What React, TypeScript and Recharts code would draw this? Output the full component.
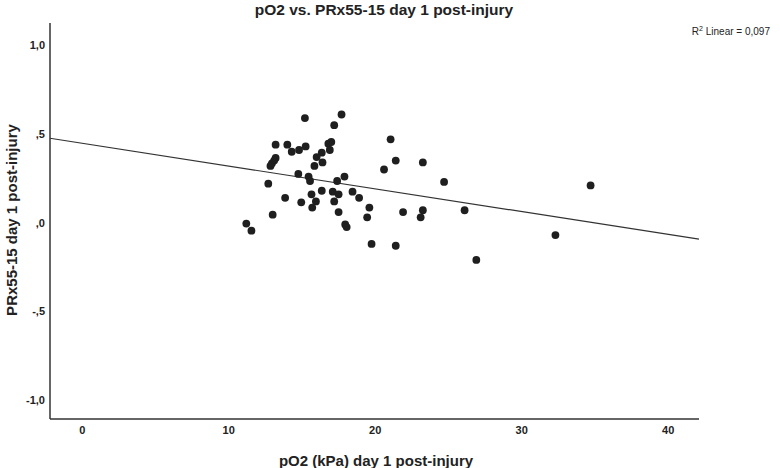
import React from "react";
import { ScatterChart, Scatter, XAxis, YAxis, ReferenceLine } from "recharts";

const pO2Values = [
  15.2, 17.7, 17.2, 13.2, 14.0, 14.3, 14.8, 15.25, 16.8, 17.0,
  16.9, 16.35, 16.0, 16.4, 15.85, 13.2, 13.1, 12.95, 12.85, 21.05,
  21.4, 20.6, 14.75, 15.45, 15.55, 17.9, 17.4, 12.7, 16.35, 15.65,
  17.1, 17.5, 18.45, 18.9, 13.85, 14.95, 15.95, 17.2, 15.7, 19.6,
  21.9, 17.5, 19.45, 13.0, 11.2, 11.55, 17.95, 18.05, 19.75, 21.4,
  23.25, 24.7, 23.25, 23.1, 26.1, 32.3, 26.9, 34.7,
];

const prxValues = [
  0.59, 0.61, 0.55, 0.44, 0.44, 0.40, 0.41, 0.43, 0.445, 0.455,
  0.41, 0.395, 0.37, 0.34, 0.32, 0.365, 0.35, 0.335, 0.32, 0.47,
  0.35, 0.30, 0.275, 0.26, 0.235, 0.26, 0.235, 0.22, 0.18, 0.16,
  0.175, 0.16, 0.175, 0.14, 0.14, 0.115, 0.12, 0.12, 0.085, 0.085,
  0.06, 0.06, 0.03, 0.045, -0.005, -0.045, -0.01, -0.025, -0.12, -0.13,
  0.34, 0.23, 0.07, 0.03, 0.07, -0.07, -0.21, 0.21,
];

const xTicks = [0, 10, 20, 30, 40];
const yTicks = [-1, -0.5, 0, 0.5, 1];

const fitX = [-2.2, 42.1];
const fitY = [0.476, -0.093];

const title = "pO2 vs. PRx55-15 day 1 post-injury";
const xLabel = "pO2 (kPa) day 1 post-injury";
const yLabel = "PRx55-15 day 1 post-injury";
const r2Text = "0,097";

const points = pO2Values.map((x, i) => ({ x, y: prxValues[i] }));

const fmtY = (v: number) => {
  if (v === 0) return ",0";
  const s = Math.abs(v).toFixed(1).replace(".", ",");
  const t = s.startsWith("0") ? s.slice(1) : s;
  return (v < 0 ? "-" : "") + t;
};

const FONT = "'Liberation Sans', Arial, sans-serif";

const Dot = (props: any) => (
  <circle cx={props.cx} cy={props.cy} r={3.9} fill="#1f1f1f" />
);

export default function App() {
  return (
    <div
      style={{
        position: "absolute",
        left: 0,
        top: 0,
        width: 780,
        height: 468,
        background: "#fff",
        fontFamily: FONT,
      }}
    >
      <ScatterChart
        width={780}
        height={468}
        margin={{ top: 23, right: 81, left: 0, bottom: 0 }}
      >
        <XAxis
          type="number"
          dataKey="x"
          domain={[-2.2, 42.1]}
          ticks={xTicks}
          allowDataOverflow
          height={49}
          tickLine={false}
          tickSize={5}
          tickMargin={2}
          axisLine={{ stroke: "#333", strokeWidth: 1.5 }}
          tick={{ fontSize: 11, fontWeight: "bold", fill: "#222", fontFamily: FONT }}
        />
        <YAxis
          type="number"
          dataKey="y"
          domain={[-1.107, 1.126]}
          ticks={yTicks}
          allowDataOverflow
          width={50}
          tickLine={false}
          tickSize={3}
          tickMargin={2}
          tickFormatter={fmtY}
          axisLine={{ stroke: "#333", strokeWidth: 1.5 }}
          tick={{ fontSize: 11, fontWeight: "bold", fill: "#222", fontFamily: FONT }}
        />
        <ReferenceLine
          segment={[
            { x: fitX[0], y: fitY[0] },
            { x: fitX[1], y: fitY[1] },
          ]}
          stroke="#333"
          strokeWidth={1.2}
        />
        <Scatter data={points} shape={Dot} isAnimationActive={false} />
      </ScatterChart>

      <div
        style={{
          position: "absolute",
          left: 184,
          width: 400,
          top: 2,
          textAlign: "center",
          fontSize: 15.5,
          fontWeight: "bold",
          lineHeight: "16px",
          color: "#222",
        }}
      >
        {title}
      </div>

      <div
        style={{
          position: "absolute",
          left: 176,
          width: 400,
          top: 452,
          textAlign: "center",
          fontSize: 15,
          fontWeight: "bold",
          lineHeight: "18px",
          color: "#222",
        }}
      >
        {xLabel}
      </div>

      <div
        style={{
          position: "absolute",
          left: 12 - 150,
          top: 220 - 9,
          width: 300,
          height: 18,
          textAlign: "center",
          fontSize: 15,
          fontWeight: "bold",
          lineHeight: "18px",
          color: "#222",
          transform: "rotate(-90deg)",
          transformOrigin: "150px 9px",
        }}
      >
        {yLabel}
      </div>

      <div
        style={{
          position: "absolute",
          right: 10,
          top: 25,
          fontSize: 10,
          lineHeight: "14px",
          color: "#222",
          whiteSpace: "nowrap",
        }}
      >
        R<sup style={{ fontSize: 7, verticalAlign: "4px", lineHeight: 0 }}>2</sup> Linear = {r2Text}
      </div>
    </div>
  );
}
